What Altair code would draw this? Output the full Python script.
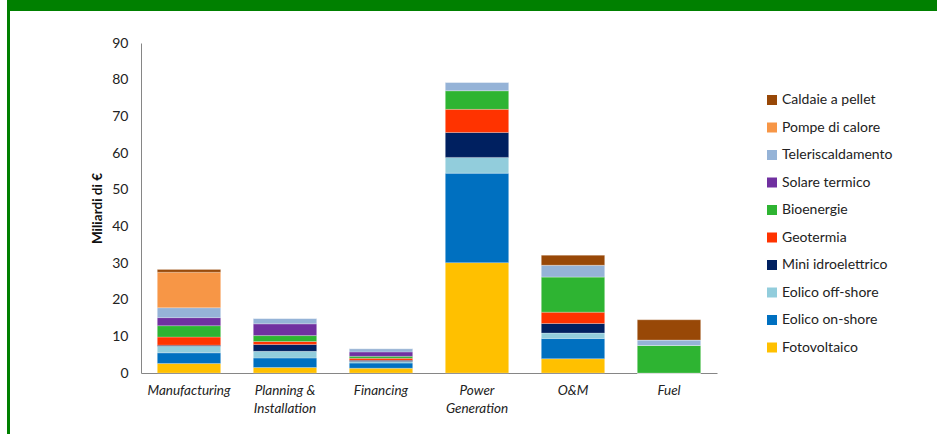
import altair as alt
import pandas as pd

categories = ["Manufacturing", "Planning & Installation", "Financing",
              "Power Generation", "O&M", "Fuel"]

series_names = ["Fotovoltaico", "Eolico on-shore", "Eolico off-shore",
                "Mini idroelettrico", "Geotermia", "Bioenergie",
                "Solare termico", "Teleriscaldamento", "Pompe di calore",
                "Caldaie a pellet"]

fotovoltaico = [2.6, 1.5, 1.3, 30.1, 3.9, 0.0]
eolico_on_shore = [2.9, 2.6, 1.4, 24.4, 5.5, 0.0]
eolico_off_shore = [1.8, 1.8, 0.45, 4.3, 1.5, 0.0]
mini_idroelettrico = [0.3, 1.9, 0.3, 6.8, 2.6, 0.0]
geotermia = [2.2, 0.8, 0.55, 6.3, 3.1, 0.0]
bioenergie = [3.1, 1.6, 0.55, 5.1, 9.6, 7.5]
solare_termico = [2.2, 3.2, 1.2, 0.0, 0.0, 0.0]
teleriscaldamento = [2.7, 1.5, 0.9, 2.3, 3.2, 1.5]
pompe_di_calore = [9.7, 0.0, 0.0, 0.0, 0.0, 0.0]
caldaie_a_pellet = [0.7, 0.0, 0.0, 0.0, 2.7, 5.5]

colors = ["#FFC000", "#0070C0", "#92CDDC", "#002060", "#FF3300",
          "#2EB432", "#7030A0", "#95B3D7", "#F79646", "#984807"]

all_series = [fotovoltaico, eolico_on_shore, eolico_off_shore,
              mini_idroelettrico, geotermia, bioenergie, solare_termico,
              teleriscaldamento, pompe_di_calore, caldaie_a_pellet]

rows = []
for si, (name, vals) in enumerate(zip(series_names, all_series)):
    for cat, v in zip(categories, vals):
        rows.append({"categoria": cat, "serie": name, "valore": v, "ordine": si})
df = pd.DataFrame(rows)

FONT = "Lato"

bars = alt.Chart(df).mark_bar(stroke="white", strokeWidth=0.4, strokeOpacity=0.6).encode(
    x=alt.X("categoria:N", sort=categories, title=None,
            scale=alt.Scale(paddingInner=0.34, paddingOuter=0.17),
            axis=alt.Axis(labelAngle=0, labelFontStyle="italic", labelFontSize=13.5,
                          labelColor="#222222", labelFont=FONT, ticks=False,
                          domainColor="#868686", labelPadding=10, labelLineHeight=18,
                          labelExpr="datum.label == 'Planning & Installation' ? ['Planning &', 'Installation'] : datum.label == 'Power Generation' ? ['Power', 'Generation'] : datum.label")),
    y=alt.Y("valore:Q", title="Miliardi di €", stack="zero",
            scale=alt.Scale(domain=[0, 90], nice=False),
            axis=alt.Axis(values=list(range(0, 91, 10)), grid=False, ticks=False,
                          domainColor="#868686", labelFontSize=14, labelColor="#222222",
                          labelFont=FONT, labelPadding=13, titleFont=FONT,
                          titleFontSize=13.5, titleFontWeight="bold", titleColor="#111111",
                          titlePadding=7)),
    color=alt.Color("serie:N",
                    scale=alt.Scale(domain=series_names[::-1], range=colors[::-1]),
                    legend=alt.Legend(title=None, orient="none", legendX=624, legendY=50,
                                      symbolType="square", symbolSize=100,
                                      symbolStrokeWidth=0, labelFont=FONT,
                                      labelFontSize=14, labelColor="#222222",
                                      labelOffset=3, rowPadding=13.5, padding=0)),
    order=alt.Order("ordine:Q", sort="ascending"),
)

one = pd.DataFrame({"k": [0]})
top_band = alt.Chart(one).mark_rule(color="#008000", strokeWidth=11).encode(
    x=alt.value(7 - 141), x2=alt.value(937 - 141), y=alt.value(5.5 - 43))
left_line = alt.Chart(one).mark_rule(color="#008000", strokeWidth=3).encode(
    x=alt.value(8.5 - 141), y=alt.value(-43), y2=alt.value(434 - 43))

chart = alt.layer(bars, top_band, left_line).properties(
    width=576, height=330, autosize="none",
    padding={"left": 141, "top": 43, "right": 220, "bottom": 61},
    background="white",
).configure_view(stroke=None)

chart.save("out.html", embed_options={"renderer": "svg", "actions": False})
